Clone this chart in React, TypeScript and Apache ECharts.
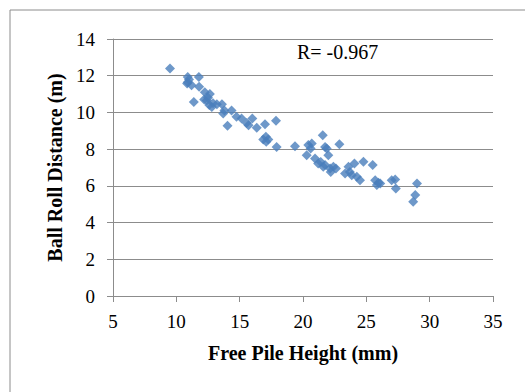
import React, { useEffect, useRef } from "react";
import * as echarts from "echarts";

const pileHeight: number[] = [
  9.5, 10.9, 10.9, 10.85, 11.2, 11.78, 11.8, 11.38, 12.25, 12.65, 12.4, 12.2, 12.6, 12.9, 13.2, 13.6,
  13.8, 14.36, 13.7, 14.04, 14.75, 15.15, 15.55, 15.7, 16.0, 16.35, 17.0, 16.86, 17.07, 17.26, 17.1,
  17.87, 17.92, 19.37, 20.29, 20.42, 20.69, 20.6, 20.95, 21.2, 21.56, 21.74, 21.87, 22.0, 21.6, 21.74,
  22.14, 22.4, 22.6, 22.19, 22.87, 23.32, 23.59, 23.7, 23.85, 24.06, 24.25, 24.5, 24.77, 25.5, 25.7,
  25.83, 25.96, 26.1, 27.0, 27.28, 27.33, 28.86, 28.7, 29.0, 12.5, 12.8, 11.0, 21.4
];
const rollDistance: number[] = [
  12.39, 11.93, 11.65, 11.57, 11.48, 11.93, 11.4, 10.57, 11.1, 11.0, 10.65, 10.7, 10.4, 10.5, 10.45, 10.45,
  10.1, 10.1, 9.94, 9.27, 9.76, 9.67, 9.43, 9.3, 9.67, 9.16, 9.36, 8.52, 8.67, 8.52, 8.4,
  9.54, 8.12, 8.16, 7.67, 8.22, 8.31, 8.03, 7.49, 7.22, 8.76, 8.12, 8.03, 7.67, 7.04, 7.13,
  6.95, 7.04, 6.95, 6.76, 8.27, 6.67, 7.04, 6.76, 6.58, 7.22, 6.49, 6.31, 7.31, 7.13, 6.31,
  6.04, 6.17, 6.13, 6.31, 6.35, 5.86, 5.5, 5.13, 6.13, 10.8, 10.3, 11.8, 7.3
];
const xTicks = { min: 5, max: 35, interval: 5 };
const yTicks = { min: 0, max: 14, interval: 2 };
const annotation = "R= -0.967";
const xTitle = "Free Pile Height (mm)";
const yTitle = "Ball Roll Distance (m)";

export default function App() {
  const ref = useRef<HTMLDivElement>(null);
  useEffect(() => {
    if (!ref.current) return;
    const chart = echarts.init(ref.current, undefined, { renderer: "svg" });
    const font = "'Liberation Serif', 'Times New Roman', serif";
    chart.setOption({
      animation: false,
      backgroundColor: "#ffffff",
      grid: { left: 113, right: 32, top: 39, bottom: 96 },
      xAxis: {
        type: "value",
        min: xTicks.min,
        max: xTicks.max,
        interval: xTicks.interval,
        name: xTitle,
        nameLocation: "middle",
        nameGap: 47,
        nameTextStyle: { fontFamily: font, fontWeight: "bold", fontSize: 20, color: "#000" },
        axisLine: { show: true, lineStyle: { color: "#8c8c8c", width: 1 } },
        axisTick: { show: true, length: 6, lineStyle: { color: "#8c8c8c" } },
        axisLabel: { fontFamily: font, fontSize: 19, color: "#000", margin: 16 },
        splitLine: { show: false },
      },
      yAxis: {
        type: "value",
        min: yTicks.min,
        max: yTicks.max,
        interval: yTicks.interval,
        name: yTitle,
        nameLocation: "middle",
        nameRotate: 90,
        nameGap: 48,
        nameTextStyle: { fontFamily: font, fontWeight: "bold", fontSize: 20, color: "#000" },
        axisLine: { show: true, lineStyle: { color: "#8c8c8c", width: 1 } },
        axisTick: { show: true, length: 6, lineStyle: { color: "#8c8c8c" } },
        axisLabel: { fontFamily: font, fontSize: 19, color: "#000", margin: 18 },
        splitLine: { show: true, lineStyle: { color: "#8c8c8c", width: 1 } },
      },
      graphic: [
        {
          type: "rect",
          shape: { x: 10, y: 10, width: 560, height: 420 },
          style: { fill: "none", stroke: "#8c8c8c", lineWidth: 1 },
          z: -1,
        },
        {
          type: "text",
          x: 297,
          y: 42,
          style: { text: annotation, font: `20px ${font}`, fill: "#000" },
        },
      ],
      series: [
        {
          type: "scatter",
          symbol: "diamond",
          symbolSize: 10,
          itemStyle: { color: "#4a7ebb" },
          data: pileHeight.map((x, i) => [x, rollDistance[i]]),
        },
      ],
    });
    return () => chart.dispose();
  }, []);
  return (
    <div
      ref={ref}
      style={{ position: "fixed", left: 0, top: 0, width: 525, height: 392 }}
    />
  );
}
